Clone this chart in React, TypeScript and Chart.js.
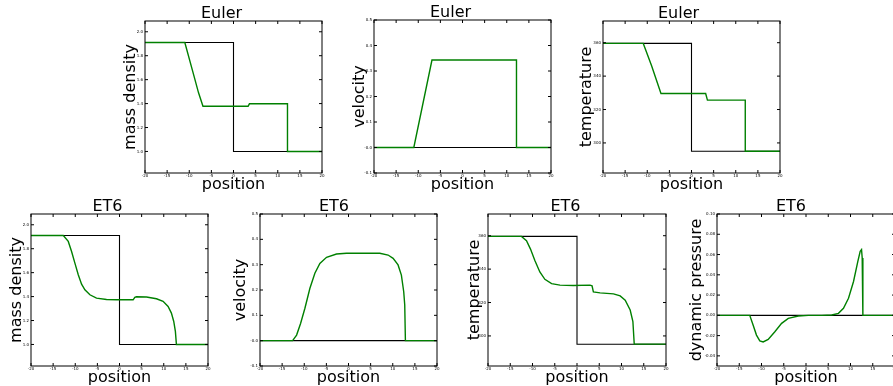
import React, { useEffect, useRef } from 'react';
import { Chart, registerables } from 'chart.js';

Chart.register(...registerables);
Chart.defaults.font.family = 'DejaVu Sans';
Chart.defaults.color = '#000';

// ---------- data ----------
// initial condition (black step at x = 0)
const stepX = [-20, 0, 0, 20];
const densityInit = [1.91, 1.91, 1.0, 1.0];
const velocityInit = [0, 0, 0, 0];
const temperatureInit = [359.6, 359.6, 295.0, 295.0];
const dynPressureInit = [0, 0, 0, 0];

// Euler solution (green)
const eulerDensityX = [-20, -11.0, -9.0, -7.9, -6.9, 3.3, 3.6, 12.2, 12.2, 20];
const eulerDensityY = [1.91, 1.91, 1.64, 1.49, 1.378, 1.378, 1.398, 1.398, 1.0, 1.0];

const eulerVelocityX = [-20, -11.0, -6.9, 12.2, 12.2, 20];
const eulerVelocityY = [0, 0, 0.343, 0.343, 0, 0];

const eulerTempX = [-20, -10.9, -9.0, -6.9, 3.2, 3.6, 12.15, 12.15, 20];
const eulerTempY = [359.6, 359.6, 346, 329.6, 329.6, 325.6, 325.6, 295.0, 295.0];

// ET6 solution (green)
const et6DensityX = [-20, -12.7, -11.58, -10.83, -10.08, -9.32, -8.57, -7.82, -6.69, -5.19, -2.93, -0.68, 1.2, 3.08, 3.46, 3.83, 6.1, 8.35, 9.85, 10.98, 11.73, 12.26, 12.63, 12.86, 20];
const et6DensityY = [1.91, 1.91, 1.861, 1.777, 1.68, 1.582, 1.504, 1.457, 1.415, 1.387, 1.376, 1.373, 1.373, 1.373, 1.393, 1.398, 1.396, 1.382, 1.36, 1.318, 1.262, 1.192, 1.109, 1.0, 1.0];

const et6VelocityX = [-20, -12.63, -11.73, -10.83, -9.85, -8.72, -7.6, -6.47, -4.96, -2.71, -0.45, 3.31, 7.07, 8.95, 10.08, 11.2, 11.95, 12.48, 12.71, 12.86, 20];
const et6VelocityY = [0, 0, 0.022, 0.068, 0.128, 0.207, 0.266, 0.305, 0.329, 0.342, 0.345, 0.345, 0.345, 0.338, 0.325, 0.299, 0.259, 0.193, 0.141, 0, 0];

const et6TempX = [-20, -12.48, -11.35, -10.45, -9.47, -8.35, -7.22, -5.71, -3.83, -0.83, 2.93, 3.38, 3.68, 5.19, 8.2, 9.7, 10.83, 11.95, 12.56, 12.86, 20];
const et6TempY = [359.6, 359.6, 357, 352, 345.2, 338.3, 333.9, 331.3, 330.4, 330.2, 330.4, 330.0, 326.4, 325.8, 325.2, 324, 321.4, 315.5, 308.6, 295.1, 295.1];

const et6DynPX = [-20, -12.64, -11.89, -11.13, -10.38, -9.63, -8.5, -7.0, -5.48, -3.98, -1.73, 0.53, 3.53, 5.79, 7.29, 8.42, 9.55, 10.68, 11.65, 12.18, 12.48, 12.63, 12.78, 20];
const et6DynPY = [0, 0, -0.0096, -0.0195, -0.0252, -0.0262, -0.0238, -0.0162, -0.0079, -0.003, -0.0007, 0, 0, 0.0003, 0.002, 0.007, 0.0169, 0.0334, 0.0533, 0.0632, 0.0649, 0.0566, 0, 0];

// axis ranges / ticks
const xRange = [-20, 20];
const xStep = 5;
const densityRange = [0.82, 2.09];
const velocityRange = [-0.1, 0.5];
const temperatureRange = [282, 373];
const dynPressureRange = [-0.05, 0.1];

const GREEN = '#008000';
const BLACK = '#000000';

const zip = (xs: number[], ys: number[]) => xs.map((x, i) => ({ x, y: ys[i] }));

type PanelCfg = {
  title: string;
  ylabel: string;
  initY: number[];
  solX: number[];
  solY: number[];
  range: number[];
  step: number;
  decimals: number;
  box: { l: number; t: number; r: number; b: number };
  yOff: number;
};

const panels: PanelCfg[] = [
  { title: 'Euler', ylabel: 'mass density', initY: densityInit, solX: eulerDensityX, solY: eulerDensityY, range: densityRange, step: 0.2, decimals: 1, box: { l: 145, t: 21, r: 322, b: 173 }, yOff: 14 },
  { title: 'Euler', ylabel: 'velocity', initY: velocityInit, solX: eulerVelocityX, solY: eulerVelocityY, range: velocityRange, step: 0.1, decimals: 1, box: { l: 374, t: 20, r: 551, b: 173 }, yOff: 14 },
  { title: 'Euler', ylabel: 'temperature', initY: temperatureInit, solX: eulerTempX, solY: eulerTempY, range: temperatureRange, step: 20, decimals: 0, box: { l: 603, t: 21, r: 780, b: 173 }, yOff: 16 },
  { title: 'ET6', ylabel: 'mass density', initY: densityInit, solX: et6DensityX, solY: et6DensityY, range: densityRange, step: 0.2, decimals: 1, box: { l: 31, t: 214, r: 208, b: 366 }, yOff: 14 },
  { title: 'ET6', ylabel: 'velocity', initY: velocityInit, solX: et6VelocityX, solY: et6VelocityY, range: velocityRange, step: 0.1, decimals: 1, box: { l: 260, t: 214, r: 437, b: 366 }, yOff: 19 },
  { title: 'ET6', ylabel: 'temperature', initY: temperatureInit, solX: et6TempX, solY: et6TempY, range: temperatureRange, step: 20, decimals: 0, box: { l: 488, t: 214, r: 666, b: 366 }, yOff: 13 },
  { title: 'ET6', ylabel: 'dynamic pressure', initY: dynPressureInit, solX: et6DynPX, solY: et6DynPY, range: dynPressureRange, step: 0.02, decimals: 2, box: { l: 717, t: 214, r: 895, b: 366 }, yOff: 20 },
];

const PAD_TOP = 4;
const TITLE_H = 14;
const HX = 21;
const PAD_RIGHT = 4;

const framePlugin = {
  id: 'frame',
  afterDatasetsDraw(chart: any) {
    const { ctx, chartArea } = chart;
    const { left, top, right, bottom } = chartArea;
    const xs = chart.scales.x;
    const ys = chart.scales.y;
    ctx.save();
    ctx.strokeStyle = '#000';
    ctx.lineWidth = 1;
    ctx.strokeRect(left, top, right - left, bottom - top);
    const len = 3;
    ctx.beginPath();
    xs.ticks.forEach((t: any) => {
      const px = xs.getPixelForValue(t.value);
      ctx.moveTo(px, bottom);
      ctx.lineTo(px, bottom - len);
      ctx.moveTo(px, top);
      ctx.lineTo(px, top + len);
    });
    ys.ticks.forEach((t: any) => {
      const py = ys.getPixelForValue(t.value);
      ctx.moveTo(left, py);
      ctx.lineTo(left + len, py);
      ctx.moveTo(right, py);
      ctx.lineTo(right - len, py);
    });
    ctx.stroke();
    ctx.restore();
  },
};

function Panel({ cfg }: { cfg: PanelCfg }) {
  const ref = useRef<HTMLCanvasElement | null>(null);
  const wy = Math.round(cfg.yOff + 9.6);
  const left = cfg.box.l - wy;
  const top = cfg.box.t - PAD_TOP - TITLE_H;
  const width = wy + (cfg.box.r - cfg.box.l) + PAD_RIGHT;
  const height = PAD_TOP + TITLE_H + (cfg.box.b - cfg.box.t) + HX;

  useEffect(() => {
    if (!ref.current) return;
    const chart = new Chart(ref.current, {
      type: 'line',
      data: {
        datasets: [
          {
            // solution (drawn on top)
            data: zip(cfg.solX, cfg.solY),
            borderColor: GREEN,
            borderWidth: 1.4,
            pointRadius: 0,
            tension: 0,
            fill: false,
            order: 0,
          },
          {
            // initial condition
            data: zip(stepX, cfg.initY),
            borderColor: BLACK,
            borderWidth: 1.1,
            pointRadius: 0,
            tension: 0,
            fill: false,
            order: 1,
          },
        ],
      },
      options: {
        responsive: false,
        animation: false,
        devicePixelRatio: 1,
        layout: { padding: { top: PAD_TOP, right: PAD_RIGHT, left: 0, bottom: 0 } },
        plugins: {
          legend: { display: false },
          tooltip: { enabled: false },
          title: {
            display: true,
            text: cfg.title,
            color: '#000',
            font: { size: 16, weight: 'normal', lineHeight: 0.875 },
            padding: 0,
          },
        },
        scales: {
          x: {
            type: 'linear',
            min: xRange[0],
            max: xRange[1],
            grid: { display: false, drawTicks: false },
            border: { display: false },
            ticks: {
              stepSize: xStep,
              font: { size: 4 },
              color: '#000',
              padding: 1,
              autoSkip: false,
              maxRotation: 0,
              callback: (v: any) => String(Math.round(Number(v))),
            },
            title: {
              display: true,
              text: 'position',
              color: '#000',
              font: { size: 16, lineHeight: 1.2 },
              padding: 0,
            },
            afterFit: (s: any) => {
              s.height = HX;
            },
          },
          y: {
            type: 'linear',
            min: cfg.range[0],
            max: cfg.range[1],
            grid: { display: false, drawTicks: false },
            border: { display: false },
            ticks: {
              stepSize: cfg.step,
              includeBounds: false,
              font: { size: 4 },
              color: '#000',
              padding: 2,
              autoSkip: false,
              callback: (v: any) => Number(v).toFixed(cfg.decimals),
            },
            title: {
              display: true,
              text: cfg.ylabel,
              color: '#000',
              font: { size: 16, lineHeight: 1.2 },
              padding: 0,
            },
            afterFit: (s: any) => {
              s.width = wy;
            },
          },
        },
      } as any,
      plugins: [framePlugin],
    });
    return () => chart.destroy();
  }, []);

  return (
    <canvas
      ref={ref}
      width={width}
      height={height}
      style={{ position: 'absolute', left, top, width, height, display: 'block' }}
    />
  );
}

export default function App() {
  return (
    <div style={{ position: 'fixed', left: 0, top: 0, width: 910, height: 386, background: '#fff', overflow: 'hidden' }}>
      {panels.map((p, i) => (
        <Panel key={i} cfg={p} />
      ))}
    </div>
  );
}
